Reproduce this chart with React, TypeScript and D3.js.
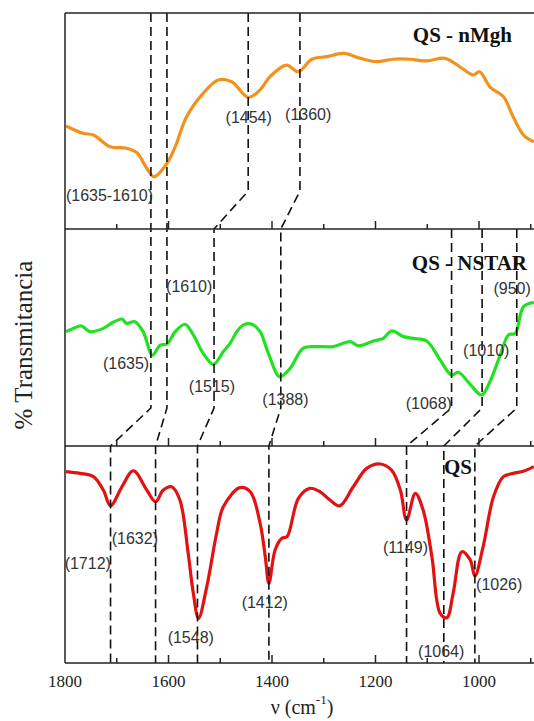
import React from "react";
import * as d3 from "d3";

// QS - nMgh (orange)
const nMghWave = [1798,1765,1745,1713,1681,1661,1642,1628,1603,1587,1565,1533,1504,1478,1446,1423,1404,1372,1349,1323,1294,1261,1229,1198,1166,1133,1101,1066,1037,1011,999,978,953,934,914,894];
const nMghT = [47.7,44.3,43.5,38.1,37.4,35.3,28.1,24.2,30.4,38.1,52.0,62.8,69.0,68.2,61.0,64.4,70.5,75.9,72.8,78.6,79.8,81.3,79.0,77.5,78.6,78.6,77.8,79.0,75.1,71.3,72.8,65.6,61.3,52.0,43.5,40.4];

// QS - NSTAR (green)
const nstarWave = [1798,1784,1768,1752,1726,1707,1690,1681,1665,1649,1631,1616,1603,1587,1568,1552,1533,1513,1494,1481,1468,1455,1439,1423,1407,1385,1365,1340,1314,1282,1249,1233,1204,1185,1169,1146,1127,1101,1075,1053,1040,1017,995,979,959,943,930,914,894];
const nstarT = [52.7,54.2,55.3,52.7,54.2,57.0,58.5,56.5,57.3,52.7,41.9,46.5,47.0,52.7,56.1,51.2,42.7,37.6,43.5,47.3,52.7,55.8,56.1,52.7,42.7,31.9,35.8,45.0,45.8,45.8,48.1,46.2,48.4,49.6,53.0,50.4,49.6,48.4,39.6,32.7,34.0,28.4,23.5,29.6,41.9,51.2,51.9,64.2,66.2];

// QS (red)
const qsWave = [1798,1771,1745,1726,1712,1690,1668,1642,1625,1610,1594,1578,1562,1552,1542,1526,1507,1494,1462,1442,1423,1413,1406,1394,1381,1371,1349,1327,1307,1288,1269,1243,1217,1191,1169,1152,1140,1123,1108,1091,1075,1062,1050,1033,1017,1008,992,972,953,934,913,894];
const qsT = [88.2,87.4,85.9,79.7,72.5,81.2,88.6,79.7,74.3,79.7,81.2,75.1,50.6,32.1,20.6,35.2,59.8,72.0,80.8,78.9,64.4,49.0,36.7,52.1,57.5,58.2,75.9,80.5,78.9,75.1,72.4,81.2,89.7,91.7,88.9,79.7,65.9,78.2,70.5,49.0,22.9,20.9,32.1,51.3,47.5,40.1,53.6,76.6,85.9,87.4,88.5,90.5];

// band marker chains (top panel -> middle panel -> bottom panel)
const chainTop: (number | null)[] = [1634, 1603, 1446, 1346, null, null, null];
const chainMid = [1634, 1603, 1512, 1383, 1053, 994, 927];
const chainBottom = [1712, 1625, 1544, 1406, 1140, 1068, 1008];

// annotations: panel index, text, wavenumber (centre), transmittance (centre)
const annPanel = [0, 0, 0, 1, 1, 1, 1, 1, 1, 1, 2, 2, 2, 2, 2, 2, 2];
const annText = ["(1635-1610)", "(1454)", "(1360)", "(1610)", "(1635)", "(1515)", "(1388)", "(1068)", "(1010)", "(950)", "(1632)", "(1712)", "(1548)", "(1412)", "(1149)", "(1026)", "(1064)"];
const annWave = [1714, 1445, 1330, 1560, 1682, 1516, 1374, 1097, 986, 936, 1665, 1756, 1557, 1414, 1142, 961, 1073];
const annT = [15.7, 51.4, 53.2, 73.7, 38.1, 27.6, 21.2, 19.7, 44.2, 72.4, 57.5, 46.0, 11.7, 27.8, 53.4, 36.4, 5.2];

const panelTitles = ["QS - nMgh", "QS - NSTAR", "QS"];
const panelColors = ["#F2921C", "#22E022", "#E21212"];
const tickLabels = [1800, 1600, 1400, 1200, 1000];
const minorTicks = [1700, 1600, 1500, 1400, 1300, 1200, 1100, 1000, 900];

export default function App() {
  const W = 534, H = 721;
  const left = 65, right = 535;
  const panelTops = [13, 229, 446];
  const panelH = [216, 217, 217];
  const bottomY = 663;

  const x = d3.scaleLinear().domain([1800, 1000]).range([left, 479]);
  const ys = panelTops.map((t, i) => d3.scaleLinear().domain([0, 100]).range([t + panelH[i], t]));

  const series = [
    { w: nMghWave, t: nMghT },
    { w: nstarWave, t: nstarT },
    { w: qsWave, t: qsT },
  ];

  const knee = 38;
  const chains = chainMid.map((m, i) => {
    const tp = chainTop[i];
    const b = chainBottom[i];
    const midBottom = panelTops[1] + panelH[1];
    let p = "";
    if (tp !== null && tp === m) {
      p = `M${x(tp)},${panelTops[0]} V${midBottom - knee}`;
    } else if (tp !== null) {
      p = `M${x(tp)},${panelTops[0]} V${panelTops[1] - knee} L${x(m)},${panelTops[1]} V${midBottom - knee}`;
    } else {
      p = `M${x(m)},${panelTops[1]} V${midBottom - knee}`;
    }
    p += ` L${x(b)},${panelTops[2]} V${bottomY}`;
    return p;
  });

  const titleAnchors = [512, 527, 472];
  const titleY = [35, 263, 467];

  return (
    <svg width={W} height={H} style={{ position: "absolute", left: 0, top: 0, background: "#fff" }}>
      <defs>
        <clipPath id="plotclip">
          <rect x={left} y={0} width={right - left} height={H} />
        </clipPath>
      </defs>
      <rect x={0} y={0} width={W} height={H} fill="#fff" />
      {/* curves */}
      <g clipPath="url(#plotclip)">
        {series.map((s, i) => {
          const line = d3
            .line<number>()
            .x((_, k) => x(s.w[k]))
            .y((_, k) => ys[i](s.t[k]))
            .curve(d3.curveCatmullRom.alpha(0.5));
          return (
            <path key={i} d={line(s.t) || ""} fill="none" stroke={panelColors[i]} strokeWidth={3.2} strokeLinejoin="round" />
          );
        })}
      </g>
      {/* dashed band lines */}
      <g clipPath="url(#plotclip)">
        {chains.map((d, i) => (
          <path key={i} d={d} fill="none" stroke="#111" strokeWidth={1.6} strokeDasharray="9 5" />
        ))}
      </g>
      {/* frame */}
      <g stroke="#222" strokeWidth={1.5} fill="none">
        <line x1={left} x2={right} y1={panelTops[0]} y2={panelTops[0]} />
        <line x1={left} x2={right} y1={panelTops[1]} y2={panelTops[1]} />
        <line x1={left} x2={right} y1={panelTops[2]} y2={panelTops[2]} />
        <line x1={left} x2={right} y1={bottomY} y2={bottomY} />
        <line x1={left} x2={left} y1={panelTops[0]} y2={bottomY} />
        {[panelTops[1], panelTops[2], bottomY].map((yy, j) =>
          minorTicks.map((v) => (
            <line key={`${j}-${v}`} x1={x(v)} x2={x(v)} y1={yy} y2={yy - (v % 200 === 0 ? 8 : 5)} />
          ))
        )}
      </g>
      {/* annotations */}
      <g fontFamily="'Liberation Sans', Arial, sans-serif" fontSize={16} fill="#333">
        {annText.map((t, i) => (
          <text key={i} x={x(annWave[i])} y={ys[annPanel[i]](annT[i])} textAnchor="middle" dominantBaseline="central">
            {t}
          </text>
        ))}
      </g>
      {/* panel titles */}
      <g fontFamily="'Liberation Serif', 'Times New Roman', serif" fontWeight="bold" fontSize={21} fill="#111">
        {panelTitles.map((t, i) => (
          <text key={i} x={titleAnchors[i]} y={titleY[i]} textAnchor="end" dominantBaseline="central">
            {t}
          </text>
        ))}
      </g>
      {/* tick labels */}
      <g fontFamily="'Liberation Serif', 'Times New Roman', serif" fontSize={17} fill="#222">
        {tickLabels.map((v) => (
          <text key={v} x={x(v)} y={681} textAnchor="middle" dominantBaseline="central">
            {v}
          </text>
        ))}
        <text x={302} y={707} textAnchor="middle" dominantBaseline="central" fontSize={20}>
          ν (cm<tspan dy={-8} fontSize={13}>-1</tspan><tspan dy={8}>)</tspan>
        </text>
        <text
          transform={`translate(23,345) rotate(-90)`}
          textAnchor="middle"
          dominantBaseline="central"
          fontSize={25}
        >
          % Transmitancia
        </text>
      </g>
    </svg>
  );
}
